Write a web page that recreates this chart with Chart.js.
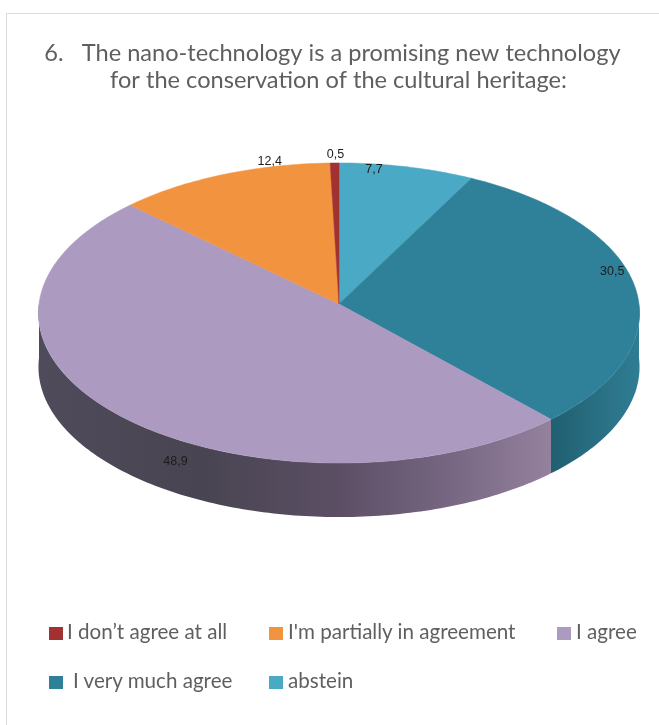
<!DOCTYPE html>
<html>
<head>
<meta charset="utf-8">
<script src="https://cdn.jsdelivr.net/npm/chart.js@4/dist/chart.umd.js"></script>
<style>
  html, body { margin: 0; padding: 0; background: #fff; }
  #wrap { position: relative; width: 659px; height: 725px; overflow: hidden; }
  #frame { position: absolute; left: 6px; top: 13px; right: 0; bottom: 0; border-left: 1px solid #dcdcdc; border-top: 1px solid #dcdcdc; }
  #chart { position: absolute; left: 0; top: 0; }
  .item { position: absolute; font: 20.6px Lato, sans-serif; color: #5f5f5f; line-height: 24px; white-space: pre; }
  .swatch { position: absolute; width: 14px; height: 13px; }
</style>
</head>
<body>
<div id="wrap">
  <div id="frame"></div>
  <canvas id="chart" width="659" height="725"></canvas>
  <div id="legend"></div>
</div>
<script>
// Legend order; the pie runs the other way round, so the chart gets them reversed
const categories = ["I don\u2019t agree at all", "I'm partially in agreement", "I agree", "I very much agree", "abstein"];
const values = [0.5, 12.4, 48.9, 30.5, 7.7];
const valueLabels = ["0,5", "12,4", "48,9", "30,5", "7,7"];
const colors = ["#a23232", "#f29340", "#ac9ac0", "#2f8199", "#4aa9c4"];
const titleLines = ["6.   The nano-technology is a promising new technology  ", "for the conservation of the cultural heritage:"];

// label shift from the rim point of each slice, in pixels
const labelShift = [[1, -8], [47, -13], [60, 48], [-22, -13], [-33, 3]];
// side wall shading, left to right
const wallStops = {
  "I agree": [[38, "#4f4b5b"], [200, "#484451"], [340, "#5c4f65"], [450, "#776782"], [548, "#93809d"]],
  "I very much agree": [[548, "#1f5f70"], [600, "#2a7084"], [639, "#2f7d93"]]
};

// perspective of the disc: circle point (u, v) to screen
const CX = 339, CY = 304, RX = 300, RY = 149.5, TILT = 0.06, DEPTH = 54;
function project(angle, r) {
  const u = Math.cos(angle) * r, v = Math.sin(angle) * r;
  const w = 1 - TILT * v;
  return { x: CX + RX * u / w, y: CY + RY * v / w };
}
function traceRim(ctx, from, to, dy) {
  const n = Math.max(2, Math.ceil(Math.abs(to - from) * 60));
  for (let i = 0; i <= n; i++) {
    const p = project(from + (to - from) * i / n, 1);
    ctx.lineTo(p.x, p.y + dy);
  }
}

const disc3d = {
  id: 'disc3d',
  beforeDatasetDraw(chart, args) {
    const ctx = chart.ctx;
    const arcs = args.meta.data;
    const names = chart.data.labels;
    const fills = chart.data.datasets[0].backgroundColor;
    const texts = valueLabels.slice().reverse();
    const shifts = labelShift.slice().reverse();

    // side wall: only the part of a slice facing the viewer
    arcs.forEach((arc, i) => {
      const a0 = Math.max(arc.startAngle, 0), a1 = Math.min(arc.endAngle, Math.PI);
      if (a1 <= a0 || !wallStops[names[i]]) return;
      const g = ctx.createLinearGradient(38, 0, 639, 0);
      wallStops[names[i]].forEach(([x, c]) => g.addColorStop((x - 38) / 601, c));
      ctx.beginPath();
      traceRim(ctx, a0, a1, 0);
      traceRim(ctx, a1, a0, DEPTH);
      ctx.closePath();
      ctx.fillStyle = g;
      ctx.fill();
    });

    // top face
    arcs.forEach((arc, i) => {
      ctx.beginPath();
      ctx.moveTo(CX, CY);
      traceRim(ctx, arc.startAngle, arc.endAngle, 0);
      ctx.closePath();
      ctx.fillStyle = fills[i];
      ctx.fill();
      ctx.strokeStyle = fills[i];
      ctx.lineWidth = 0.5;
      ctx.stroke();
    });

    // value labels
    ctx.font = '12.5px "Liberation Sans", sans-serif';
    ctx.fillStyle = '#1c1c1c';
    ctx.textAlign = 'center';
    ctx.textBaseline = 'middle';
    arcs.forEach((arc, i) => {
      const p = project((arc.startAngle + arc.endAngle) / 2, 1);
      ctx.fillText(texts[i], p.x + shifts[i][0], p.y + shifts[i][1]);
    });
    return false;
  }
};

new Chart(document.getElementById('chart'), {
  type: 'pie',
  data: {
    labels: categories.slice().reverse(),
    datasets: [{ data: values.slice().reverse(), backgroundColor: colors.slice().reverse(), borderWidth: 0 }]
  },
  options: {
    responsive: false,
    animation: false,
    layout: { padding: { left: 18 } },
    plugins: {
      legend: { display: false },
      tooltip: { enabled: false },
      title: {
        display: true,
        text: titleLines,
        color: '#5f5f5f',
        font: { family: 'Lato', size: 23.6, weight: 'normal', lineHeight: 1.14 },
        padding: { top: 40, bottom: 0 }
      }
    }
  },
  plugins: [disc3d]
});

// legend grid, same spacing as the reference
const legendCols = [[49, 67], [269, 288], [557, 576], [49, 73], [269, 288]];
const legendRows = [632, 632, 632, 681, 681];
const legendBox = document.getElementById('legend');
categories.forEach((name, i) => {
  const sw = document.createElement('div');
  sw.className = 'swatch';
  sw.style.cssText = `left:${legendCols[i][0]}px;top:${legendRows[i] - 5}px;background:${colors[i]}`;
  const tx = document.createElement('div');
  tx.className = 'item';
  tx.style.cssText = `left:${legendCols[i][1]}px;top:${legendRows[i] - 13}px`;
  tx.textContent = name;
  legendBox.append(sw, tx);
});
</script>
</body>
</html>
